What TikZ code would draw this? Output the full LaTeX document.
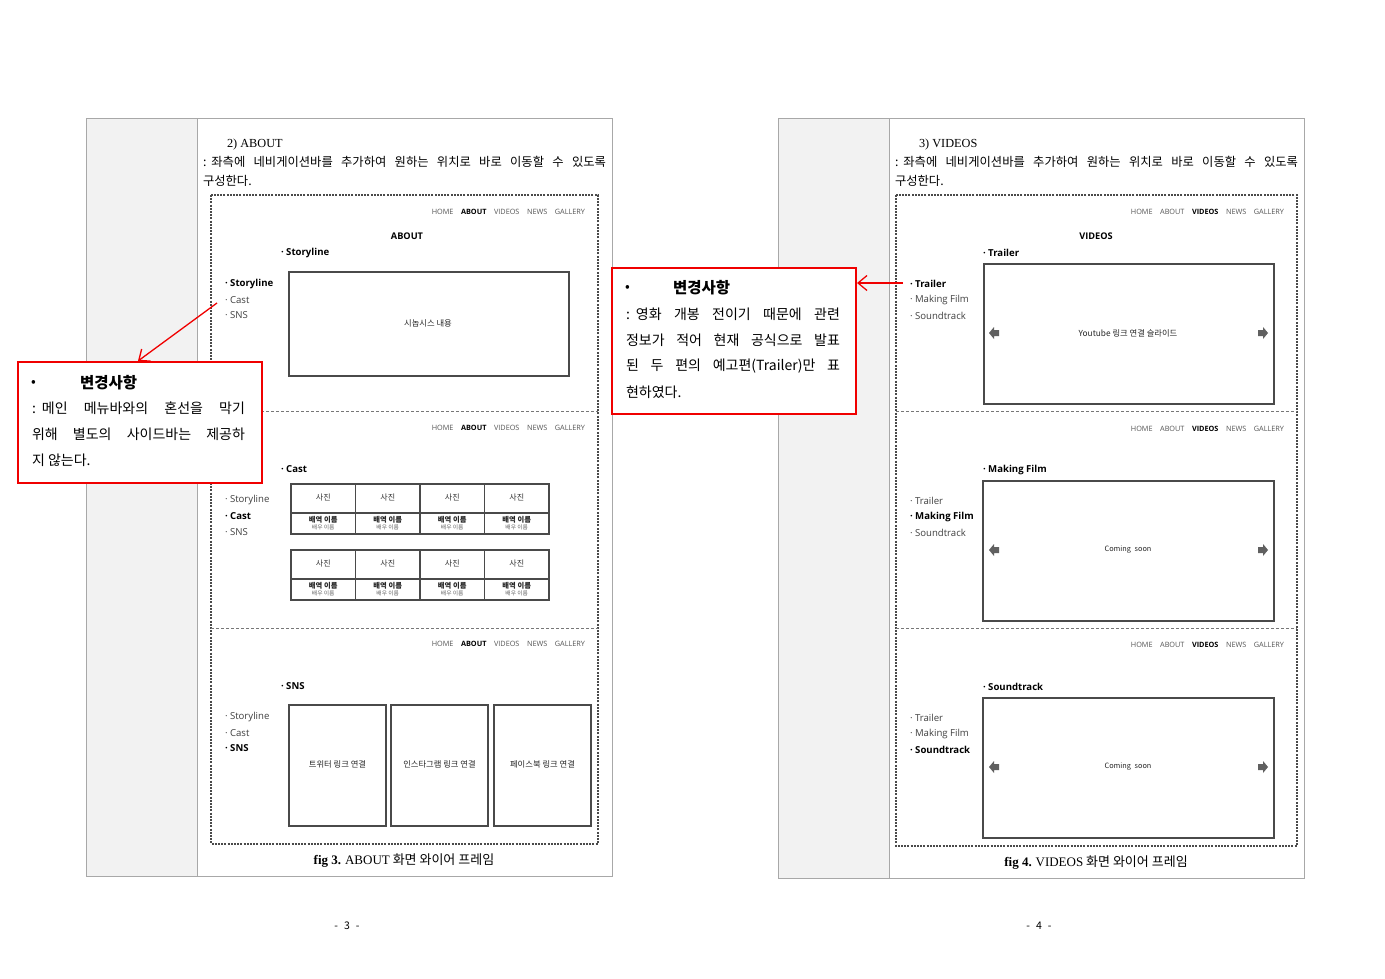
\documentclass[tikz,border=0pt]{standalone}
\usepackage{fontspec}
\setmainfont{Noto Sans CJK KR}
\newfontfamily\sr{Liberation Serif}
\newfontfamily\os{Open Sans}
\usetikzlibrary{arrows.meta}
\definecolor{framegray}{HTML}{A8A8A8}
\definecolor{colfill}{HTML}{F2F2F2}
\definecolor{wire}{HTML}{4A4A4A}
\definecolor{navgray}{HTML}{555555}
\definecolor{callred}{HTML}{F00000}
\newcommand\navsp{\hspace{7.5pt}}
\newcommand\jline[2]{\makebox[#1][s]{#2}}
\tikzset{
 pageframe/.style={draw=framegray, line width=1pt},
 graycol/.style={draw=framegray, fill=colfill, line width=1pt},
 wireframe/.style={draw=wire, line width=1.4pt, dash pattern=on 2pt off 1.2pt},
 divider/.style={draw=wire!75, line width=1pt, dash pattern=on 3pt off 2pt},
 wbox/.style={draw=wire, line width=1.2pt},
 txt/.style={inner sep=0pt, outer sep=0pt},
 lbl/.style={txt, anchor=west, font=\os\fontsize{9.6}{11}\selectfont, text=black!75},
 lblb/.style={txt, anchor=west, font=\os\fontsize{9.6}{11}\selectfont\bfseries, text=black},
 navtxt/.style={txt, anchor=east, font=\os\fontsize{7.3}{9}\selectfont, text=navgray},
 tinytxt/.style={txt, font=\fontsize{8}{9}\selectfont, text=black!80},
 tinybold/.style={txt, font=\fontsize{7.3}{8}\selectfont\bfseries, text=black!85},
 microtxt/.style={txt, font=\fontsize{5.8}{6}\selectfont, text=black!60},
 centertxt/.style={txt, font=\fontsize{8.3}{9}\selectfont, text=black!85},
 comingtxt/.style={txt, font=\fontsize{7.3}{8}\selectfont, text=black!85},
 callbox/.style={draw=callred, line width=2pt, inner sep=0pt, anchor=north west},
 calltxt/.style={txt, anchor=west, font=\fontsize{14}{16}\selectfont},
 callbold/.style={txt, anchor=west, font=\fontsize{15.5}{17}\selectfont\bfseries},
 callarrow/.style={draw=callred, line width=1.3pt, -{Straight Barb[length=9pt,width=15pt]}},
 bodytxt/.style={txt, anchor=west, font=\fontsize{12.3}{14}\selectfont},
 slidearrow/.style={fill=gray!75!black, draw=none},
}
\newcommand\navbarA{HOME\navsp\textbf{\color{black}ABOUT}\navsp VIDEOS\navsp NEWS\navsp GALLERY}
\newcommand\navbarV{HOME\navsp ABOUT\navsp\textbf{\color{black}VIDEOS}\navsp NEWS\navsp GALLERY}
\newcommand\slidearrows[3]{%
 \fill[slidearrow] (#1,#3) -- ({#1+5},{#3-6}) -- ({#1+5},{#3-3}) -- ({#1+10},{#3-3}) -- ({#1+10},{#3+3}) -- ({#1+5},{#3+3}) -- ({#1+5},{#3+6}) -- cycle;
 \fill[slidearrow] (#2,#3) -- ({#2-5},{#3-6}) -- ({#2-5},{#3-3}) -- ({#2-10},{#3-3}) -- ({#2-10},{#3+3}) -- ({#2-5},{#3+3}) -- ({#2-5},{#3+6}) -- cycle;}
\begin{document}
\begin{tikzpicture}[x=1pt,y=-1pt]
\useasboundingbox (0,0) rectangle (1385,979);
\fill[white] (0,0) rectangle (1385,979);

% ================= LEFT PAGE =================
\draw[pageframe] (86,119) rectangle (612,876);
\draw[graycol] (86,119) rectangle (197,876);
\node[bodytxt] (lh1) at (227,145) {\sr 2)\ ABOUT};
\node[bodytxt] (lh2) at (203,162) {\jline{403pt}{:\hspace{5pt}좌측에 네비게이션바를 추가하여 원하는 위치로 바로 이동할 수 있도록}};
\node[bodytxt] (lh3) at (203,181) {구성한다.};
\draw[wireframe] (211,195) rectangle (598,844);
\draw[divider] (211,411) -- (598,411);
\draw[divider] (211,628) -- (598,628);
\node[txt, font=\fontsize{13}{15}\selectfont] (lcap) at (404,861) {{\sr\bfseries fig 3.} {\sr ABOUT} 화면 와이어 프레임};
\node[txt, font=\fontsize{10.5}{12}\selectfont] (lpg) at (347,926) {-\hspace{6pt}3\hspace{6pt}-};

% section 1
\node[navtxt] (ln1) at (585,212) {\navbarA};
\node[txt, font=\os\fontsize{9.2}{11}\selectfont\bfseries] (lt1) at (407,236) {ABOUT};
\node[lblb] (ls1) at (281,253) {· Storyline};
\node[lblb] (l1a) at (225,284) {· Storyline};
\node[lbl] (l1b) at (225,300) {· Cast};
\node[lbl] (l1c) at (225,315) {· SNS};
\draw[wbox] (289,272) rectangle (569,376);
\node[centertxt] (syn) at (428,323) {시놉시스 내용};

% section 2
\node[navtxt] (ln2) at (585,428) {\navbarA};
\node[lblb] (ls2) at (281,469) {· Cast};
\node[lbl] (l2a) at (225,500) {· Storyline};
\node[lblb] (l2b) at (225,516) {· Cast};
\node[lbl] (l2c) at (225,532) {· SNS};
\foreach \r/\yt in {0/484, 1/550} {
  \draw[wbox] (291,\yt) rectangle (549,{\yt+50});
  \foreach \i in {1,2,3} \draw[wbox] ({291+64.5*\i},\yt) -- ({291+64.5*\i},{\yt+50});
  \draw[wbox] (291,{\yt+29}) -- (549,{\yt+29});
  \foreach \i in {0,...,3} {
    \node[tinytxt] (ph\r\i) at ({323.25+64.5*\i},{\yt+14}) {사진};
    \node[tinybold] (ro\r\i) at ({323.25+64.5*\i},{\yt+35.5}) {배역 이름};
    \node[microtxt] (ac\r\i) at ({323.25+64.5*\i},{\yt+43.5}) {배우 이름};
  }
}

% section 3
\node[navtxt] (ln3) at (585,644) {\navbarA};
\node[lblb] (ls3) at (281,686) {· SNS};
\node[lbl] (l3a) at (225,717) {· Storyline};
\node[lbl] (l3b) at (225,733) {· Cast};
\node[lblb] (l3c) at (225,748) {· SNS};
\draw[wbox] (289,705) rectangle (386,826);
\draw[wbox] (391,705) rectangle (488,826);
\draw[wbox] (494,705) rectangle (591,826);
\node[centertxt] (sn1) at (337.5,764) {트위터 링크 연결};
\node[centertxt] (sn2) at (439.5,764) {인스타그램 링크 연결};
\node[centertxt] (sn3) at (542.5,764) {페이스북 링크 연결};

% ================= RIGHT PAGE =================
\draw[pageframe] (778,119) rectangle (1304,878);
\draw[graycol] (778,119) rectangle (889,878);
\node[bodytxt] (rh1) at (919,145) {\sr 3)\ VIDEOS};
\node[bodytxt] (rh2) at (895,162) {\jline{403pt}{:\hspace{5pt}좌측에 네비게이션바를 추가하여 원하는 위치로 바로 이동할 수 있도록}};
\node[bodytxt] (rh3) at (895,181) {구성한다.};
\draw[wireframe] (896,195) rectangle (1297,846);
\draw[divider] (896,411) -- (1297,411);
\draw[divider] (896,628) -- (1297,628);
\node[txt, font=\fontsize{13}{15}\selectfont] (rcap) at (1096,863) {{\sr\bfseries fig 4.} {\sr VIDEOS} 화면 와이어 프레임};
\node[txt, font=\fontsize{10.5}{12}\selectfont] (rpg) at (1039,926) {-\hspace{6pt}4\hspace{6pt}-};

% section 1
\node[navtxt] (rn1) at (1284,212) {\navbarV};
\node[txt, font=\os\fontsize{9.2}{11}\selectfont\bfseries] (rt1) at (1096,236) {VIDEOS};
\node[lblb] (rs1) at (983,253) {· Trailer};
\node[lblb] (r1a) at (910,284) {· Trailer};
\node[lbl] (r1b) at (910,300) {· Making Film};
\node[lbl] (r1c) at (910,316) {· Soundtrack};
\draw[wbox] (984,264) rectangle (1274,404);
\node[centertxt] (yt) at (1128,333) {Youtube 링크 연결 슬라이드};
\slidearrows{989}{1268}{333}

% section 2
\node[navtxt] (rn2) at (1284,429) {\navbarV};
\node[lblb] (rs2) at (983,470) {· Making Film};
\node[lbl] (r2a) at (910,501) {· Trailer};
\node[lblb] (r2b) at (910,517) {· Making Film};
\node[lbl] (r2c) at (910,533) {· Soundtrack};
\draw[wbox] (983,481) rectangle (1274,621);
\node[comingtxt] (cs1) at (1128,550) {Coming\hspace{2pt} soon};
\slidearrows{989}{1268}{550}

% section 3
\node[navtxt] (rn3) at (1284,645) {\navbarV};
\node[lblb] (rs3) at (983,687) {· Soundtrack};
\node[lbl] (r3a) at (910,718) {· Trailer};
\node[lbl] (r3b) at (910,734) {· Making Film};
\node[lblb] (r3c) at (910,750) {· Soundtrack};
\draw[wbox] (983,698) rectangle (1274,838);
\node[comingtxt] (cs2) at (1128,767) {Coming\hspace{2pt} soon};
\slidearrows{989}{1268}{767}

% ================= CALLOUTS =================
\node[callbox, fill=white, minimum width=244pt, minimum height=121pt] (cl) at (17,361) {};
\node[calltxt] (clb) at (31,383) {•};
\node[callbold] (clh) at (80,383) {변경사항};
\node[calltxt] (cl1) at (32,408) {\jline{213pt}{:\hspace{6pt}메인 메뉴바와의 혼선을 막기}};
\node[calltxt] (cl2) at (32,434) {\jline{213pt}{위해 별도의 사이드바는 제공하}};
\node[calltxt] (cl3) at (32,460) {지 않는다.};
\coordinate (la) at (217,303);
\draw[callarrow] (la) -- ([xshift=-2pt]cl.north);

\node[callbox, fill=white, minimum width=244pt, minimum height=146pt] (cr) at (611,267) {};
\node[calltxt] (crb) at (625,288) {•};
\node[callbold] (crh) at (673,288) {변경사항};
\node[calltxt] (cr1) at (626,314) {\jline{214pt}{:\hspace{6pt}영화 개봉 전이기 때문에 관련}};
\node[calltxt] (cr2) at (626,340) {\jline{214pt}{정보가 적어 현재 공식으로 발표}};
\node[calltxt] (cr3) at (626,366) {\jline{214pt}{된 두 편의 예고편(Trailer)만 표}};
\node[calltxt] (cr4) at (626,392) {현하였다.};
\coordinate (ra) at (903,283);
\draw[callarrow] (ra) -- (cr.east |- ra);
\end{tikzpicture}
\end{document}
